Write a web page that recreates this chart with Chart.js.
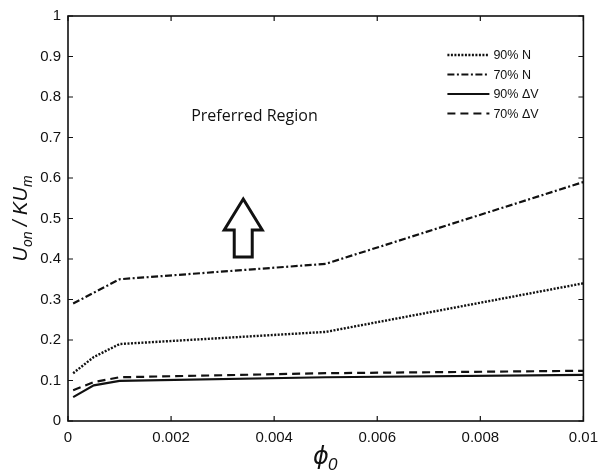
<!DOCTYPE html>
<html lang="en">
  <head>
    <meta charset="UTF-8" />
    <title>Onset velocity vs phi0</title>
    <style>
      body {
          margin: 0;
          background-color: #fff;
      }
    </style>
    <script src="https://cdn.jsdelivr.net/npm/chart.js@4.4.0/dist/chart.umd.min.js"></script>
  </head>
  <body>
    <canvas id="onsetChart" width="606" height="472"></canvas>
    <script>
      // phi0 sample positions shared by all four curves
      var phi0 = [0.0001, 0.0005, 0.001, 0.005, 0.01];
      var n90 = [0.118, 0.158, 0.19, 0.22, 0.34];
      var n70 = [0.29, null, 0.35, 0.388, 0.59];
      var dv90 = [0.059, 0.088, 0.099, 0.108, 0.114];
      var dv70 = [0.076, 0.096, 0.108, 0.118, 0.124];

      var seriesNames = ["90% N", "70% N", "90% \u0394V", "70% \u0394V"];
      var xTickLabels = ["0", "0.002", "0.004", "0.006", "0.008", "0.01"];
      var yTickLabels = ["0", "0.1", "0.2", "0.3", "0.4", "0.5", "0.6", "0.7", "0.8", "0.9", "1"];

      // arrow pointing into the preferred region (data units)
      var arrowX = 0.0034;
      var arrowTop = 0.548;
      var arrowBottom = 0.405;

      var tickFont = { family: "'Liberation Sans', Arial, sans-serif", size: 15 };

      const toPoints = (ys) => phi0.map((x, i) => ({ x: x, y: ys[i] }));

      const lineSet = (label, ys, dash, width) => ({
        label: label,
        data: toPoints(ys),
        borderColor: "#111",
        borderWidth: width,
        borderDash: dash,
        pointRadius: 0,
        fill: false,
        tension: 0,
        spanGaps: true,
      });

      // MATLAB-style box with inward ticks on all four sides
      const boxFrame = {
        id: "boxFrame",
        afterDraw(chart) {
          const { ctx, chartArea: a, scales } = chart;
          const x = scales.x;
          const y = scales.y;
          ctx.save();
          ctx.strokeStyle = "#111";
          ctx.lineWidth = 1.6;
          ctx.setLineDash([]);
          ctx.strokeRect(a.left, a.top, a.right - a.left, a.bottom - a.top);
          ctx.lineWidth = 1.2;
          ctx.beginPath();
          x.ticks.forEach((t) => {
            const px = x.getPixelForValue(t.value);
            ctx.moveTo(px, a.bottom);
            ctx.lineTo(px, a.bottom - 5);
            ctx.moveTo(px, a.top);
            ctx.lineTo(px, a.top + 5);
          });
          y.ticks.forEach((t) => {
            const py = y.getPixelForValue(t.value);
            ctx.moveTo(a.left, py);
            ctx.lineTo(a.left + 5, py);
            ctx.moveTo(a.right, py);
            ctx.lineTo(a.right - 5, py);
          });
          ctx.stroke();
          ctx.restore();
        },
      };

      // axis titles with subscripts
      const axisTitles = {
        id: "axisTitles",
        afterDraw(chart) {
          const { ctx, chartArea: a } = chart;
          const big = "italic 20px 'Liberation Sans', Arial, sans-serif";
          const small = "italic 14px 'Liberation Sans', Arial, sans-serif";
          const phiFont = "italic 24px 'DejaVu Sans', sans-serif";
          const subFont = "italic 17px 'Liberation Sans', Arial, sans-serif";
          ctx.save();
          ctx.fillStyle = "#111";
          ctx.textBaseline = "alphabetic";
          ctx.textAlign = "left";

          // x title: phi_0
          ctx.font = phiFont;
          const phiW = ctx.measureText("\u03D5").width;
          ctx.font = subFont;
          const zW = ctx.measureText("0").width;
          let sx = (a.left + a.right) / 2 - (phiW + zW) / 2;
          ctx.font = phiFont;
          ctx.fillText("\u03D5", sx, 464);
          ctx.font = subFont;
          ctx.fillText("0", sx + phiW - 1, 470);

          // y title: U_on / KU_m
          const parts = [
            ["U", big, 0],
            ["on", small, 5],
            [" / KU", big, 0],
            ["m", small, 5],
          ];
          let total = 0;
          parts.forEach((p) => {
            ctx.font = p[1];
            total += ctx.measureText(p[0]).width;
          });
          ctx.translate(27, (a.top + a.bottom) / 2);
          ctx.rotate(-Math.PI / 2);
          let cx = -total / 2;
          parts.forEach((p) => {
            ctx.font = p[1];
            ctx.fillText(p[0], cx, p[2]);
            cx += ctx.measureText(p[0]).width;
          });
          ctx.restore();
        },
      };

      // legend inside the plot, upper right, plus region label and arrow
      const annotations = {
        id: "annotations",
        afterDatasetsDraw(chart) {
          const { ctx, chartArea: a, scales } = chart;
          ctx.save();
          ctx.fillStyle = "#111";
          ctx.strokeStyle = "#111";

          chart.data.datasets.forEach((ds, i) => {
            const rowY = a.top + 39 + i * 19.5;
            ctx.lineWidth = ds.borderWidth;
            ctx.setLineDash(ds.borderDash || []);
            ctx.beginPath();
            ctx.moveTo(a.right - 136, rowY);
            ctx.lineTo(a.right - 94, rowY);
            ctx.stroke();
            ctx.setLineDash([]);
            ctx.font = "12.5px 'Liberation Sans', Arial, sans-serif";
            ctx.textBaseline = "middle";
            ctx.textAlign = "left";
            ctx.fillText(ds.label, a.right - 90, rowY + 1);
          });

          ctx.font = "16px 'Open Sans', 'Noto Sans', sans-serif";
          ctx.textBaseline = "alphabetic";
          ctx.fillText("Preferred Region", scales.x.getPixelForValue(0.00239), scales.y.getPixelForValue(0.74));

          // hollow arrow
          const cx = scales.x.getPixelForValue(arrowX);
          const tip = scales.y.getPixelForValue(arrowTop);
          const bottom = scales.y.getPixelForValue(arrowBottom);
          const headH = 31;
          const headHalf = 19;
          const shaftHalf = 9;
          ctx.fillStyle = "#fff";
          ctx.lineWidth = 3;
          ctx.lineJoin = "miter";
          ctx.beginPath();
          ctx.moveTo(cx, tip);
          ctx.lineTo(cx + headHalf, tip + headH);
          ctx.lineTo(cx + shaftHalf, tip + headH);
          ctx.lineTo(cx + shaftHalf, bottom);
          ctx.lineTo(cx - shaftHalf, bottom);
          ctx.lineTo(cx - shaftHalf, tip + headH);
          ctx.lineTo(cx - headHalf, tip + headH);
          ctx.closePath();
          ctx.fill();
          ctx.stroke();
          ctx.restore();
        },
      };

      var onsetChart = new Chart(document.getElementById("onsetChart"), {
        type: "line",
        data: {
          datasets: [
            lineSet(seriesNames[0], n90, [2, 1.5], 2.4),
            lineSet(seriesNames[1], n70, [7, 2.5, 2, 2.5], 2.2),
            lineSet(seriesNames[2], dv90, [], 2.2),
            lineSet(seriesNames[3], dv70, [8, 5], 2.2),
          ],
        },
        options: {
          responsive: false,
          animation: false,
          layout: {
            padding: { top: 14, right: 22, left: 0, bottom: 0 },
          },
          plugins: {
            legend: { display: false },
            tooltip: { enabled: false },
          },
          scales: {
            x: {
              type: "linear",
              min: 0,
              max: 0.01,
              grid: { display: false, drawTicks: false },
              border: { display: false },
              ticks: {
                stepSize: 0.002,
                padding: 8,
                color: "#111",
                font: tickFont,
                maxRotation: 0,
                callback: (value, index) => xTickLabels[index],
              },
              afterFit: (scale) => {
                scale.height = 51;
              },
            },
            y: {
              min: 0,
              max: 1,
              grid: { display: false, drawTicks: false },
              border: { display: false },
              ticks: {
                stepSize: 0.1,
                padding: 7,
                color: "#111",
                font: tickFont,
                callback: (value, index) => yTickLabels[index],
              },
              afterFit: (scale) => {
                scale.width = 68;
              },
            },
          },
        },
        plugins: [boxFrame, axisTitles, annotations],
      });
    </script>
  </body>
</html>
